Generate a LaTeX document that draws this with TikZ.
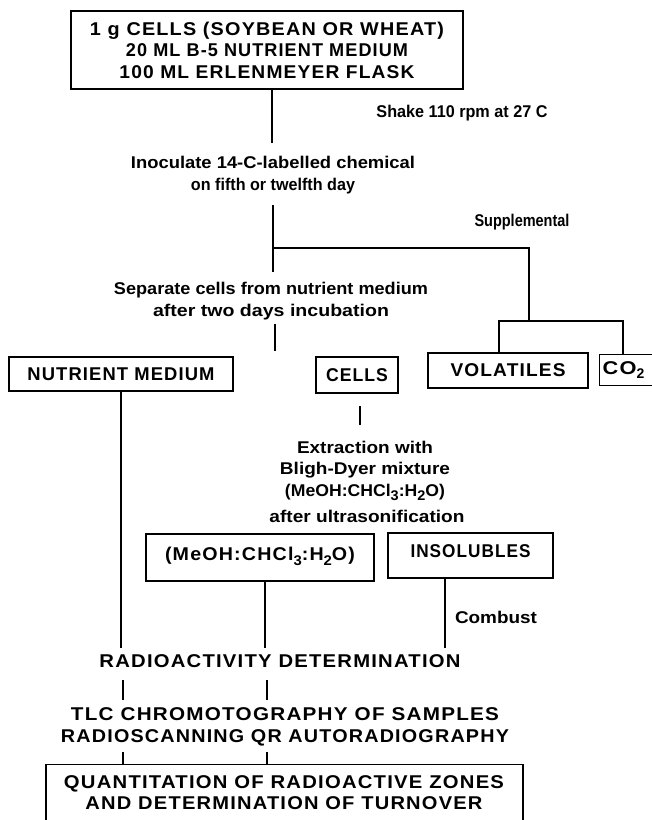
\documentclass[tikz,border=0pt]{standalone}
\usepackage{fontspec}
\usepackage{graphicx}
\setmainfont{Liberation Sans}
\newfontfamily\capsfont{Liberation Sans}[LetterSpace=6]
\newcommand\fw[2]{\resizebox{#1pt}{\height}{#2}}
\newcommand\sbs[1]{\raisebox{-0.5ex}{\fontsize{14}{14}\selectfont #1}}
\tikzset{
  ln/.style={line width=1.1pt},
  box/.style={draw, line width=1.1pt, rectangle, inner sep=0pt},
  caps/.style={font=\capsfont\bfseries\fontsize{18.5}{21.5}\selectfont, align=center, inner sep=0pt},
  note/.style={font=\bfseries\fontsize{17}{21.5}\selectfont, align=center, inner sep=0pt},
}
\begin{document}
\begin{tikzpicture}[x=1pt,y=-1pt]
\useasboundingbox (0,0) rectangle (652,820);
\fill[white] (0,0) rectangle (652,820);

% boxes and texts
\node[box, caps, minimum width=392pt, minimum height=78pt] (top) at (267,50)
  {\fw{354}{1 g CELLS (SOYBEAN OR WHEAT)}\\ \fw{282}{20 ML B-5 NUTRIENT MEDIUM}\\ \fw{295}{100 ML ERLENMEYER FLASK}};
\node[note] (shake) at (462,113) {\fw{171}{Shake 110 rpm at 27 C}};
\node[note] (inoc) at (273,175) {\fw{284}{Inoculate 14-C-labelled chemical}\\ \fw{164}{on fifth or twelfth day}};
\node[note] (supp) at (522,222) {\fw{95}{Supplemental}};
\node[note] (sep) at (271,301) {\fw{314}{Separate cells from nutrient medium}\\ \fw{236}{after two days incubation}};

\node[box, caps, minimum width=224pt, minimum height=34pt] (nut) at (121,374) {\fw{187}{NUTRIENT MEDIUM}};
\node[box, caps, minimum width=82pt, minimum height=36pt] (cells) at (357,375) {\fw{62}{CELLS}};
\node[box, caps, minimum width=160pt, minimum height=35pt] (vol) at (508,370.5) {\fw{115}{VOLATILES}};
\node[box, caps, anchor=west, minimum height=31pt, text width=65pt, inner xsep=3pt, align=left] (co2) at (599,370) {\fw{34}{CO}\sbs{2}};

\node[note] (extr) at (365,471) {\fw{136}{Extraction with}\\ \fw{170}{Bligh-Dyer mixture}\\ \fw{160}{(MeOH:CHCl\sbs{3}:H\sbs{2}O)}};
\node[note] (ultra) at (367,516) {\fw{195}{after ultrasonification}};

\node[box, caps, minimum width=228pt, minimum height=47pt, text height=13.5pt, text depth=8pt] (meoh) at (260,557.5) {\fw{190}{(MeOH:CHCl\sbs{3}:H\sbs{2}O)}};
\node[box, caps, minimum width=165pt, minimum height=45pt, text height=13.5pt, text depth=10pt] (insol) at (470.5,555.5) {\fw{120}{INSOLUBLES}};
\node[note] (comb) at (496,617) {\fw{82}{Combust}};

\node[caps] (radio) at (280,661) {\fw{361}{RADIOACTIVITY DETERMINATION}};
\node[caps] (tlc) at (285,727) {\fw{428}{TLC CHROMOTOGRAPHY OF SAMPLES}\\ \fw{448}{RADIOSCANNING QR AUTORADIOGRAPHY}};
\node[box, minimum width=477pt, minimum height=70pt, anchor=north] (bot) at (284.5,764) {};
\node[caps] (quant) at (284,792.5) {\fw{440}{QUANTITATION OF RADIOACTIVE ZONES}\\ \fw{397}{AND DETERMINATION OF TURNOVER}};

% connectors
\coordinate (a1) at (272,143);
\draw[ln] (a1 |- top.south) -- (a1);
\coordinate (b0) at (273,205);
\coordinate (b2) at (273,272);
\coordinate (bj) at (273,248);
\coordinate (bs) at (529,248);
\coordinate (bs2) at (529,321);
\draw[ln] (b0) -- (b2);
\draw[ln] (bj) -- (bs) -- (bs2);
\coordinate (c0) at (275,324);
\coordinate (c1) at (275,351);
\draw[ln] (c0) -- (c1);
\coordinate (v1) at (499,321);
\coordinate (v2) at (623,321);
\draw[ln] (v1 |- vol.north) -- (v1) -- (v2) -- (v2 |- co2.north);
\coordinate (n1) at (121,648);
\draw[ln] (nut.south) -- (n1);
\coordinate (e0) at (360,406);
\coordinate (e1) at (360,425);
\draw[ln] (e0) -- (e1);
\coordinate (m1) at (265,648);
\draw[ln] (m1 |- meoh.south) -- (m1);
\coordinate (i1) at (445,648);
\draw[ln] (i1 |- insol.south) -- (i1);
\coordinate (r1) at (123,680);
\coordinate (r1b) at (123,700);
\coordinate (r2) at (267,680);
\coordinate (r2b) at (267,700);
\draw[ln] (r1) -- (r1b);
\draw[ln] (r2) -- (r2b);
\coordinate (t1) at (123,752);
\coordinate (t2) at (267,752);
\draw[ln] (t1) -- (t1 |- bot.north);
\draw[ln] (t2) -- (t2 |- bot.north);
\end{tikzpicture}
\end{document}
